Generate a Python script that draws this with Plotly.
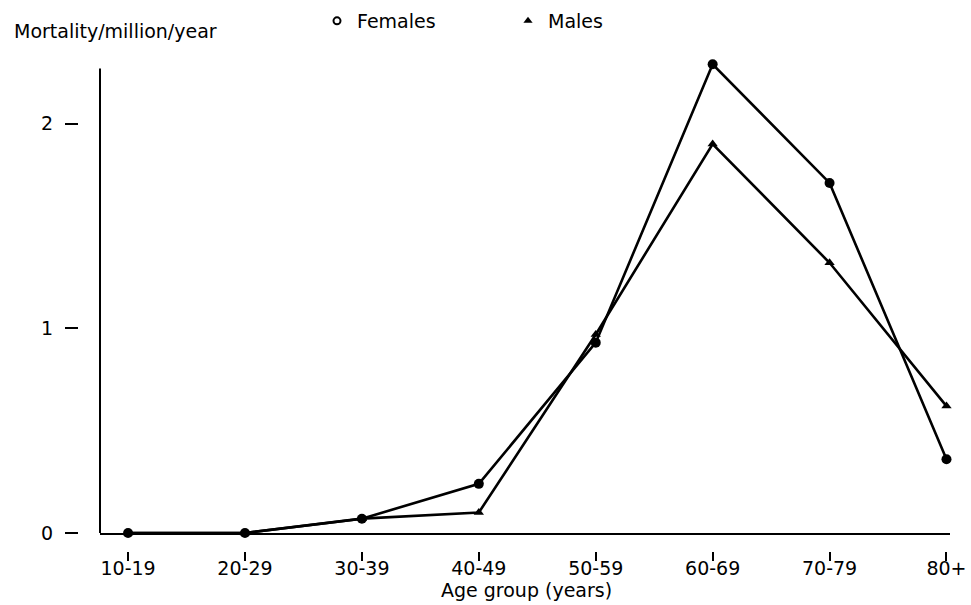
import plotly.graph_objects as go

age_groups = ["10-19", "20-29", "30-39", "40-49", "50-59", "60-69", "70-79", "80+"]
females = [0.0, 0.0, 0.07, 0.24, 0.93, 2.29, 1.71, 0.36]
males = [0.0, 0.0, 0.07, 0.10, 0.97, 1.90, 1.32, 0.62]
y_tick_vals = [0, 1, 2]
y_tick_text = ["0", "1", "2"]

FONT = "DejaVu Sans"
FS = 19
W, H = 971, 605
PX_PER_UNIT = 204.5
Y0_PX = 533
yr = [0, 2.34]
ML, MR, MB = 30, 21, 5
MT = int(round(Y0_PX - yr[1] * PX_PER_UNIT))
PW = W - ML - MR
PH = H - MT - MB
Y_LINE_TOP = (Y0_PX - 69) / PX_PER_UNIT

xi = list(range(len(age_groups)))
xr = [-0.24, 7.03]

x_dom0 = (100 - ML) / PW
y_dom0 = (H - MB - Y0_PX) / PH


def paper_y(py):
    return (H - MB - py) / PH


def paper_x(px):
    return (px - ML) / PW


fig = go.Figure()
fig.add_trace(go.Scatter(x=xi, y=females, mode="lines+markers", name="Females",
                         line=dict(color="black", width=2.6),
                         marker=dict(symbol="circle", size=10, color="black"),
                         cliponaxis=False, showlegend=False))
fig.add_trace(go.Scatter(x=xi, y=males, mode="lines+markers", name="Males",
                         line=dict(color="black", width=2.6),
                         marker=dict(symbol="triangle-up", size=9, color="black"),
                         cliponaxis=False, showlegend=False))
# legend entries
fig.add_trace(go.Scatter(x=[None], y=[None], mode="markers", name="Females",
                         marker=dict(symbol="circle-open", size=7, color="black", line=dict(width=2)),
                         legend="legend"))
fig.add_trace(go.Scatter(x=[None], y=[None], mode="markers", name="Males",
                         marker=dict(symbol="triangle-up", size=8, color="black"),
                         legend="legend2"))
# helpers to create the detached tick axes
fig.add_trace(go.Scatter(x=[None], y=[None], xaxis="x2", yaxis="y", showlegend=False, hoverinfo="skip"))
fig.add_trace(go.Scatter(x=[None], y=[None], xaxis="x", yaxis="y2", showlegend=False, hoverinfo="skip"))

fig.update_layout(
    width=W, height=H,
    margin=dict(l=ML, r=MR, t=MT, b=MB),
    paper_bgcolor="white", plot_bgcolor="white",
    font=dict(family=FONT, size=FS, color="black"),
    xaxis=dict(domain=[x_dom0, 1], range=xr, showline=True, linecolor="black", linewidth=2,
               showgrid=False, zeroline=False, showticklabels=False, ticks="",
               anchor="y", automargin=False),
    yaxis=dict(domain=[y_dom0, 1], range=yr, showline=False,
               showgrid=False, zeroline=False, showticklabels=False, ticks="",
               anchor="x", automargin=False),
    xaxis2=dict(overlaying="x", anchor="free", position=paper_y(551), range=xr,
                tickmode="array", tickvals=xi, ticktext=age_groups,
                ticks="outside", ticklen=9, tickwidth=2, tickcolor="black",
                showline=False, showgrid=False, zeroline=False, automargin=False,
                tickfont=dict(family=FONT, size=FS), ticklabelstandoff=-9),
    yaxis2=dict(overlaying="y", anchor="free", position=paper_x(78), range=yr,
                tickmode="array", tickvals=y_tick_vals, ticktext=y_tick_text,
                ticks="outside", ticklen=13, tickwidth=2, tickcolor="black",
                showline=False, showgrid=False, zeroline=False, automargin=False,
                tickfont=dict(family=FONT, size=FS), ticklabelstandoff=8),
    legend=dict(orientation="h", xref="container", yref="container",
                x=317 / W, y=1 - 21 / H, xanchor="left", yanchor="middle",
                font=dict(family=FONT, size=FS), bgcolor="rgba(0,0,0,0)"),
    legend2=dict(orientation="h", xref="container", yref="container",
                 x=508 / W, y=1 - 21 / H, xanchor="left", yanchor="middle",
                 font=dict(family=FONT, size=FS), bgcolor="rgba(0,0,0,0)"),
    shapes=[dict(type="line", xref="x domain", x0=0, x1=0, yref="y", y0=0, y1=Y_LINE_TOP,
                 line=dict(color="black", width=2), layer="above")],
    annotations=[
        dict(text="Mortality/million/year", xref="paper", yref="paper",
             x=paper_x(12), y=paper_y(31), xanchor="left", yanchor="middle",
             showarrow=False, font=dict(family=FONT, size=FS)),
        dict(text="Age group (years)", xref="paper", yref="paper",
             x=paper_x(526), y=paper_y(590), xanchor="center", yanchor="middle",
             showarrow=False, font=dict(family=FONT, size=FS)),
    ],
    showlegend=True,
)

fig.write_html("out.html")
